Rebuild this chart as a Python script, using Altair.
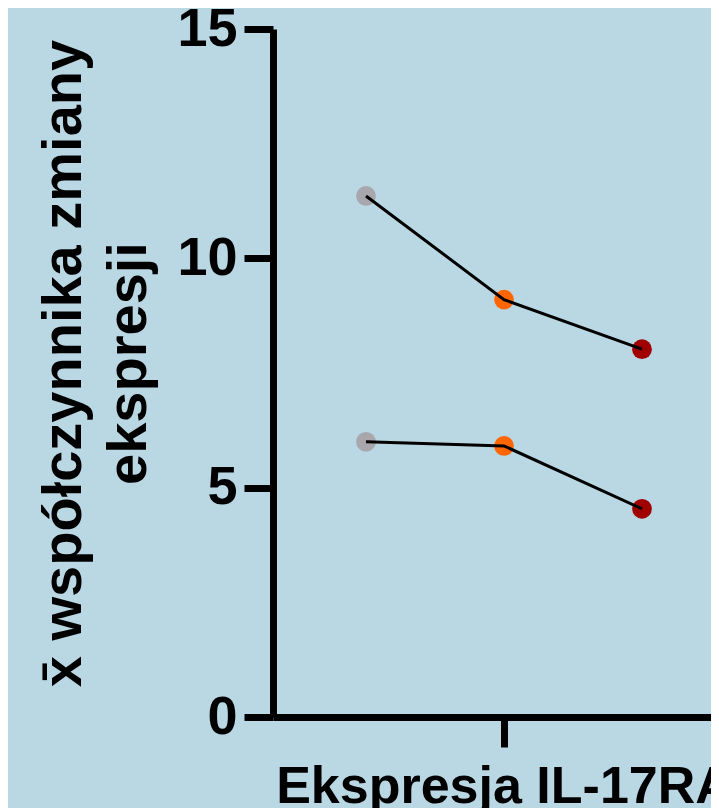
import altair as alt
import pandas as pd

# ---- data ----
category = ["Ekspresja IL-17RA"]
groups = ["Grupa 1", "Grupa 2", "Grupa 3"]
series_names = ["Seria górna", "Seria dolna"]
upper_values = [11.36, 9.10, 8.02]
lower_values = [6.00, 5.91, 4.54]
group_colors = ["#a7a7ac", "#ff6600", "#a00000"]
y_ticks = [0, 5, 10, 15]

rows = []
for s, vals in zip(series_names, [upper_values, lower_values]):
    for i, (g, v) in enumerate(zip(groups, vals)):
        rows.append({"kat": category[0], "grupa": g, "poz": i + 1, "seria": s, "wartosc": v})
df = pd.DataFrame(rows)

FONT = "Liberation Sans"
label_expr = "'" + category[0] + "'"

x_enc = alt.X(
    "poz:Q",
    scale=alt.Scale(domain=[0.326, 3.5], nice=False, zero=False),
    axis=alt.Axis(
        title=None,
        values=[2],
        labelExpr=label_expr,
        labelAngle=0,
        labelFont=FONT,
        labelFontWeight="bold",
        labelFontSize=52,
        labelColor="black",
        labelPadding=14,
        labelLimit=2000,
        labelOverlap=False,
        labelFlush=False,
        tickSize=30,
        tickWidth=7,
        tickColor="black",
        domainWidth=7,
        domainColor="black",
        grid=False,
    ),
)
y_enc = alt.Y(
    "wartosc:Q",
    scale=alt.Scale(domain=[0, 15], nice=False, zero=True),
    axis=alt.Axis(
        title=["x̄ współczynnika zmiany", "ekspresji"],
        values=y_ticks,
        labelFont=FONT,
        labelFontWeight="bold",
        labelFontSize=54,
        labelColor="black",
        labelPadding=7,
        tickSize=29,
        tickWidth=7,
        tickColor="black",
        domainWidth=7,
        domainColor="black",
        grid=False,
        titleFont=FONT,
        titleFontWeight="bold",
        titleFontSize=56,
        titleColor="black",
        titleLineHeight=65,
        titleBaseline="alphabetic",
        titleAlign="center",
        titleAngle=270,
        titleX=-193,
        titleY=334,
    ),
)

points = alt.Chart(df).mark_circle(size=390, opacity=1).encode(
    x=x_enc,
    y=y_enc,
    color=alt.Color(
        "grupa:N",
        sort=groups,
        scale=alt.Scale(domain=groups, range=group_colors),
        legend=None,
    ),
)

lines = alt.Chart(df).mark_line(color="black", strokeWidth=3).encode(
    x=x_enc,
    y=y_enc,
    detail="seria:N",
    order=alt.Order("poz:Q"),
)

chart = (
    alt.layer(points, lines)
    .properties(
        width=438,
        height=688,
        background="#bad7e4",
        autosize=alt.AutoSizeParams(type="none"),
        padding={"left": 265, "top": 21, "right": 0, "bottom": 100},
    )
    .configure_view(stroke=None)
)

chart.save("out.html", embed_options={"renderer": "svg", "actions": False})
